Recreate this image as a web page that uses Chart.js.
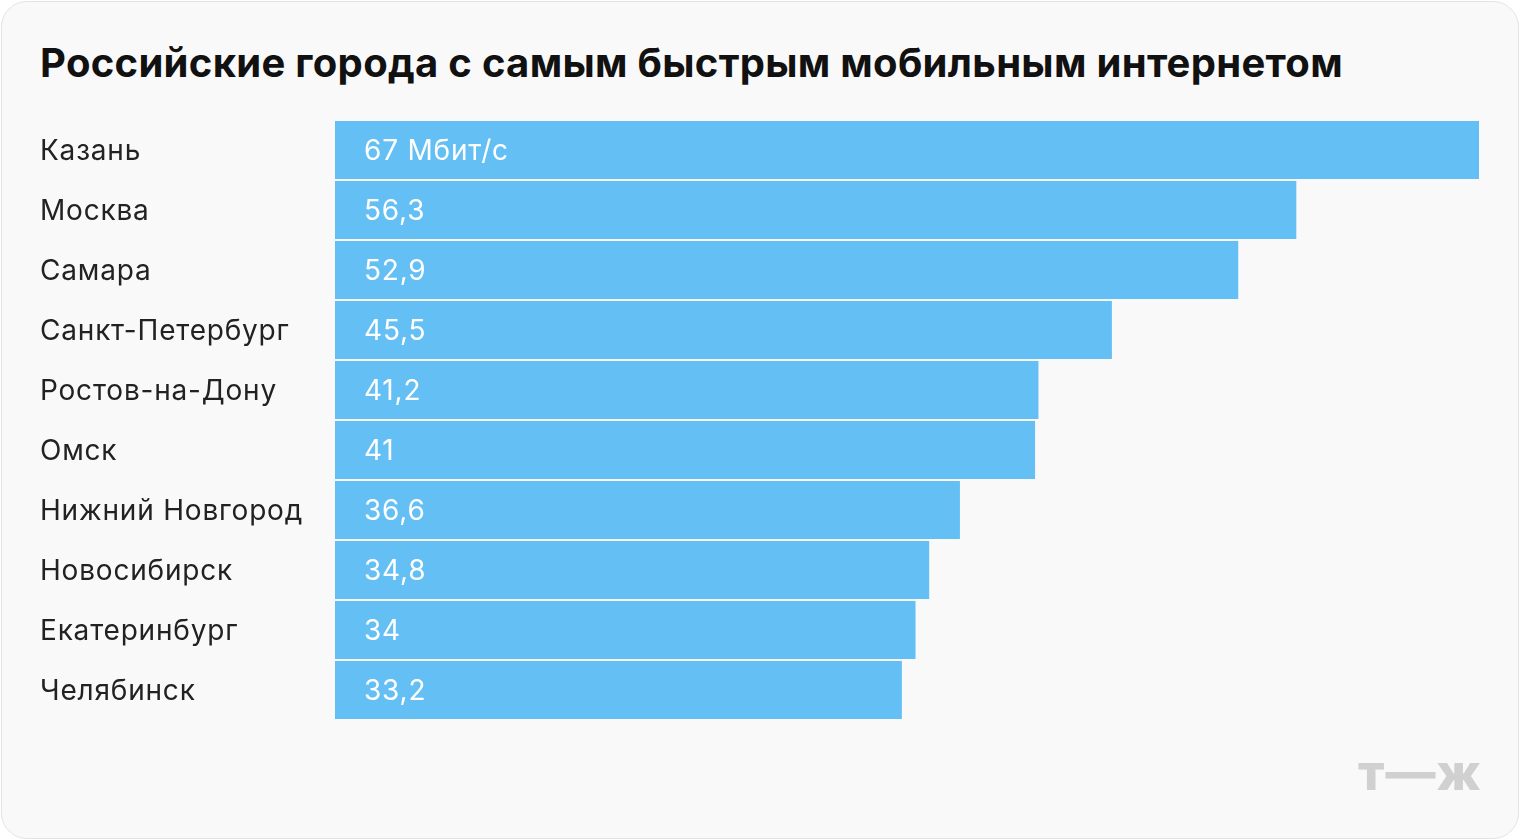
<!DOCTYPE html>
<html><head><meta charset="utf-8">
<script src="https://cdn.jsdelivr.net/npm/chart.js@4"></script>
<style>
html,body{margin:0;padding:0;background:#fff;width:1520px;height:840px;overflow:hidden;font-family:Inter,Roboto,sans-serif}
#card{position:absolute;left:1px;top:1px;width:1516px;height:836px;border:1px solid #e3e3e3;border-radius:26px;background:#f9f9f9}
#title{position:absolute;left:40px;top:38px;font-size:40px;font-weight:700;color:#111;letter-spacing:0.3px;margin:0}
#logo{position:absolute;left:1358px;top:742px;font-size:50px;font-weight:800;color:#d0d0d0;letter-spacing:1px}
canvas{position:absolute;left:0;top:0}
</style></head><body>
<div id="card"></div>
<h1 id="title">Российские города с самым быстрым мобильным интернетом</h1>
<div id="logo">т—ж</div>
<div style="position:absolute;left:0;top:0;width:1520px;height:840px"><canvas id="c"></canvas></div>
<script>
const cities=["Казань","Москва","Самара","Санкт-Петербург","Ростов-на-Дону","Омск","Нижний Новгород","Новосибирск","Екатеринбург","Челябинск"];
const speeds=[67,56.3,52.9,45.5,41.2,41,36.6,34.8,34,33.2];
const valueLabels=["67 Мбит/с","56,3","52,9","45,5","41,2","41","36,6","34,8","34","33,2"];
const inBar={id:'inBar',
beforeDraw(ch){ch.ctx.letterSpacing='0.8px';},
afterDatasetsDraw(ch){const ctx=ch.ctx;const m=ch.getDatasetMeta(0);ctx.save();ctx.letterSpacing='0.8px';ctx.fillStyle='#fff';ctx.font='28px Inter, Roboto, sans-serif';ctx.textBaseline='middle';
m.data.forEach((b,i)=>{ctx.fillText(valueLabels[i],ch.chartArea.left+29,b.y+2);});ctx.restore();}};
new Chart(document.getElementById('c'),{type:'bar',
data:{labels:cities,datasets:[{data:speeds,backgroundColor:'#64bff4',categoryPercentage:1,barPercentage:0.967}]},
options:{indexAxis:'y',responsive:true,maintainAspectRatio:false,animation:false,
layout:{padding:{left:40,right:41,top:120,bottom:120}},
plugins:{legend:{display:false},tooltip:{enabled:false}},
scales:{x:{display:false,min:0,max:67},
y:{grid:{display:false},border:{display:false},afterFit(s){s.width=295;},
ticks:{crossAlign:'far',color:'#222',padding:0,labelOffset:2,font:{size:28,family:'Inter, Roboto, sans-serif'}}}}},
plugins:[inBar]});
</script></body></html>
